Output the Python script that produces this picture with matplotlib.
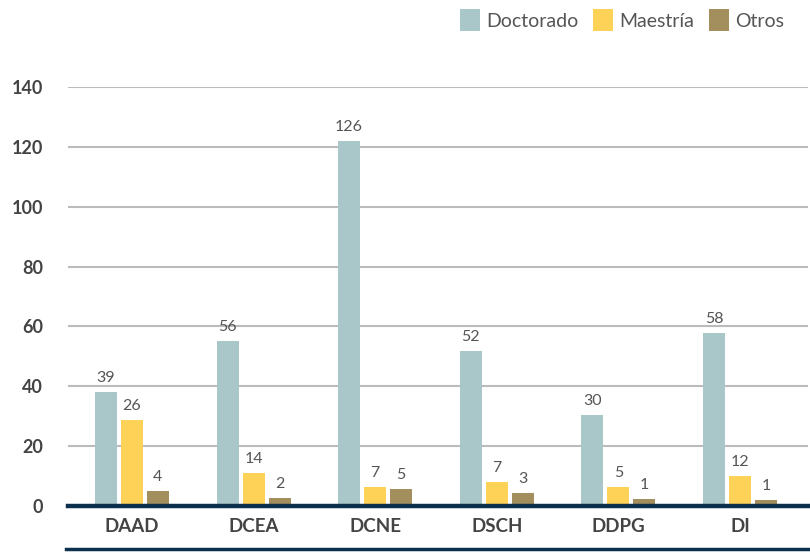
import numpy as np
import matplotlib.pyplot as plt
from matplotlib.lines import Line2D

plt.rcParams['font.family'] = ['Lato', 'DejaVu Sans']

# data
departamentos = ["DAAD", "DCEA", "DCNE", "DSCH", "DDPG", "DI"]
series = ["Doctorado", "Maestría", "Otros"]
# bar heights as drawn
doctorado = [38, 55, 122, 51.7, 30.3, 57.8]
maestria = [28.7, 11, 6.3, 8, 6.3, 10.1]
otros = [5, 2.7, 5.7, 4.3, 2.3, 2]
# value labels as printed above the bars
doctorado_lbl = [39, 56, 126, 52, 30, 58]
maestria_lbl = [26, 14, 7, 7, 5, 12]
otros_lbl = [4, 2, 5, 3, 1, 1]
yticks = [0, 20, 40, 60, 80, 100, 120, 140]

colors = ["#A9C7C9", "#FDD257", "#A38F5E"]
navy = "#0C2F4E"
txt = "#444444"

fig = plt.figure(figsize=(8.1, 5.52), dpi=100)
ax = fig.add_axes([68 / 810, 1 - 506 / 552, 740 / 810, (506 - 87) / 552])

x = np.arange(len(departamentos))
w = 0.181
step = 0.214
heights = [doctorado, maestria, otros]
labels = [doctorado_lbl, maestria_lbl, otros_lbl]

for i, (name, h, lbl, c) in enumerate(zip(series, heights, labels, colors)):
    pos = x + (i - 1) * step
    ax.bar(pos, h, width=w, color=c, label=name, zorder=3)
    for px, py, t in zip(pos, h, lbl):
        ax.annotate(str(t), (px, py), xytext=(0, 5), textcoords="offset points",
                    ha="center", va="bottom", fontsize=11.5, color="#555555")

ax.set_xlim(-0.526, 5.56)
ax.set_ylim(0, 140)
ax.set_yticks(yticks)
ax.set_xticks(x)
ax.set_xticklabels(departamentos, fontsize=13.5, fontweight="bold", color=txt)
for lab in ax.get_yticklabels():
    lab.set_fontweight("bold")
    lab.set_fontsize(13)
    lab.set_color(txt)
ax.tick_params(axis="y", length=0, pad=18)
ax.tick_params(axis="x", length=0, pad=9)
ax.grid(axis="y", color="#BBBBBB", linewidth=1.5, zorder=0)
for s in ax.spines.values():
    s.set_visible(False)
ax.axhline(0, color=navy, linewidth=3.2, zorder=4, clip_on=False)

# line under the category labels
fig.add_artist(Line2D([66 / 810, 808 / 810], [1 - 549 / 552, 1 - 549 / 552],
                      color=navy, linewidth=2.5))

fig.legend(loc="upper right", bbox_to_anchor=(0.99, 1.015), ncol=3, frameon=False,
           fontsize=14, handlelength=1.0, handleheight=1.35, handletextpad=0.35,
           columnspacing=0.75, labelcolor="#555555")

fig.savefig("out.png", dpi=100)
